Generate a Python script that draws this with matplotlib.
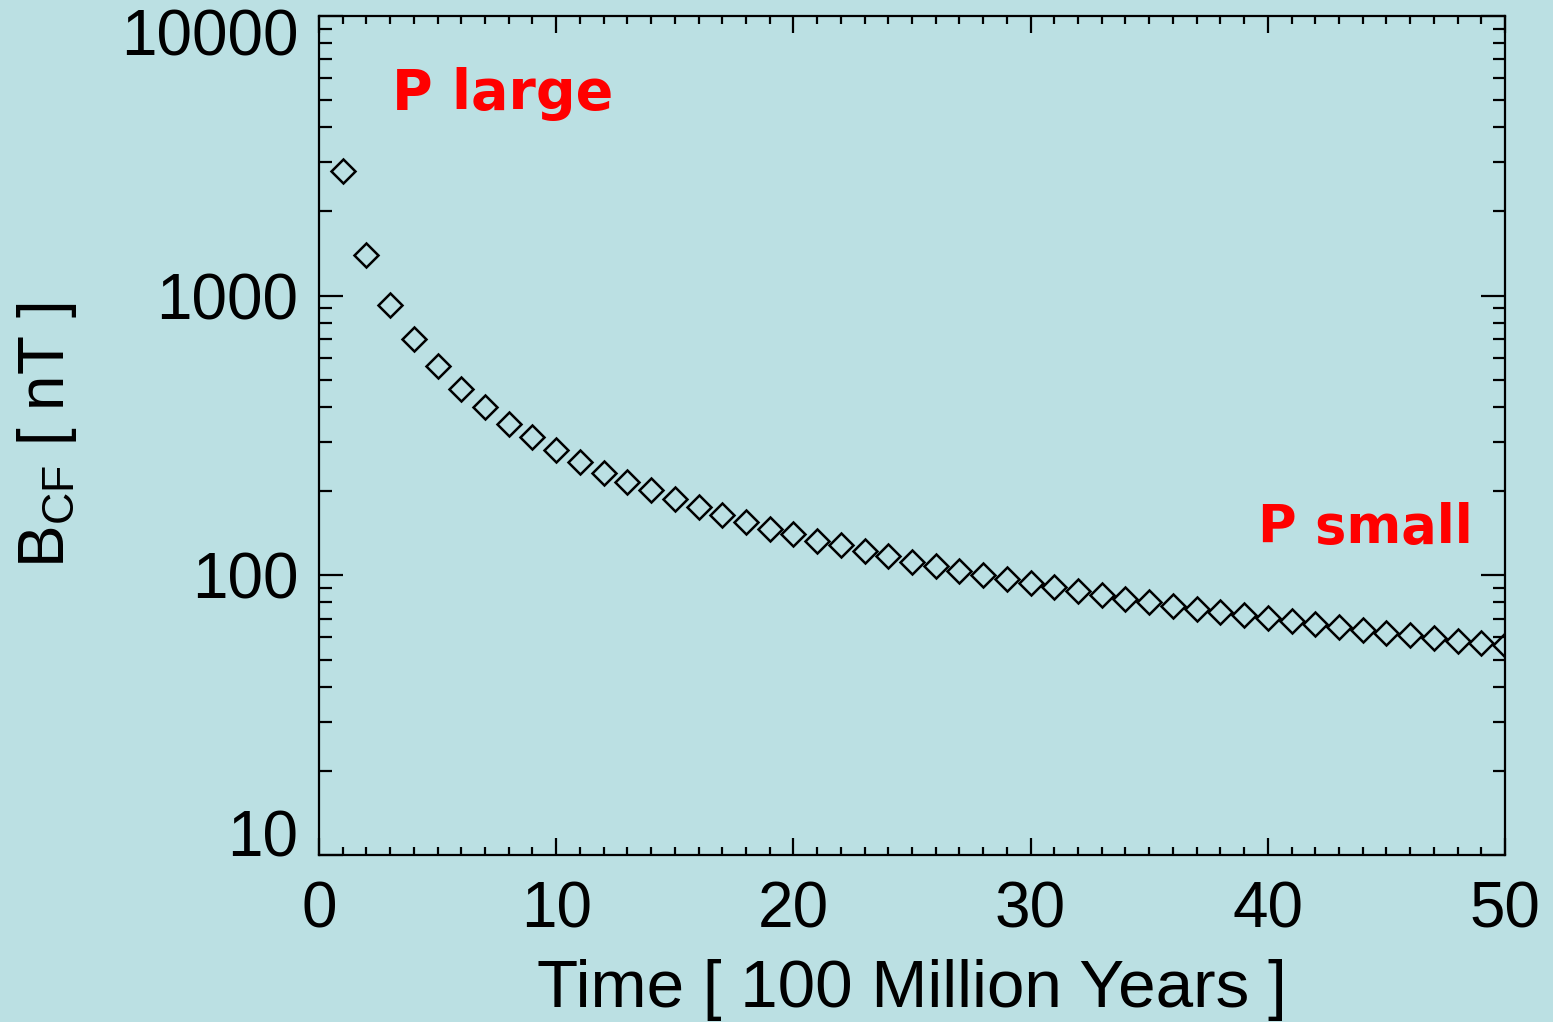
import matplotlib
matplotlib.use("Agg")
import matplotlib.pyplot as plt
import matplotlib.transforms as mtransforms
from matplotlib.ticker import FixedLocator, MultipleLocator, NullFormatter

# values
time = list(range(1, 51))   # [100 Million Years]
b_cf = [2795, 1398, 928, 700, 559, 465, 399, 349, 312, 280,
        254, 233, 215, 202, 187, 175, 165, 155, 147, 140,
        133, 128, 122, 117, 112, 108, 104, 100, 96.8, 93.6,
        90.8, 87.9, 85.1, 82.6, 80.4, 78.0, 75.8, 74.0, 72.0, 70.2,
        68.5, 66.8, 65.4, 63.8, 62.4, 61.1, 59.7, 58.4, 57.3, 56.2]
yticks = [10, 100, 1000, 10000]
xticks = [0, 10, 20, 30, 40, 50]

bg = '#bbe0e3'
plt.rcParams['font.family'] = ['Liberation Sans', 'DejaVu Sans']
plt.rcParams['mathtext.default'] = 'regular'

fig = plt.figure(figsize=(15.53, 10.22), dpi=100, facecolor=bg)
ax = fig.add_axes([319/1553, 1 - 855/1022, (1505-319)/1553, (855-16)/1022])
ax.set_facecolor(bg)

ax.plot(time, b_cf, linestyle='none', marker='D', markersize=12,
        markerfacecolor='none', markeredgecolor='k', markeredgewidth=1.8)

ax.set_yscale('log')
ax.set_ylim(10, 10000)
ax.set_xlim(0, 50)
ax.yaxis.set_major_locator(FixedLocator(yticks))
ax.set_yticklabels([str(v) for v in yticks])
ax.yaxis.set_minor_formatter(NullFormatter())
ax.xaxis.set_major_locator(FixedLocator(xticks))
ax.xaxis.set_minor_locator(MultipleLocator(1))

for s in ax.spines.values():
    s.set_linewidth(1.6)

ax.tick_params(which='both', direction='in', top=True, right=True,
               width=1.6, labelsize=46, colors='k')
ax.tick_params(axis='x', which='major', length=12, pad=18)
ax.tick_params(axis='x', which='minor', length=6)
ax.tick_params(axis='y', which='major', length=17, pad=15)
ax.tick_params(axis='y', which='minor', length=9)

# IDL nudges the end labels inside the axis range
labels = ax.get_yticklabels()
shift_down = mtransforms.ScaledTranslation(0, -16/100, fig.dpi_scale_trans)
shift_up = mtransforms.ScaledTranslation(0, 22/100, fig.dpi_scale_trans)
labels[-1].set_transform(labels[-1].get_transform() + shift_down)
labels[0].set_transform(labels[0].get_transform() + shift_up)

ax.set_xlabel('Time [ 100 Million Years ]', fontsize=48.5, labelpad=14)
ax.set_ylabel(r'B$_{CF}$ [ nT ]', fontsize=46, labelpad=30)

ax.text(0.0616, 0.889, 'P large', transform=ax.transAxes, color='red',
        fontsize=40, fontweight='bold', family='DejaVu Sans',
        ha='left', va='baseline')
ax.text(0.792, 0.372, 'P small', transform=ax.transAxes, color='red',
        fontsize=38, fontweight='bold', family='DejaVu Sans',
        ha='left', va='baseline')

fig.savefig('out.png', dpi=100, facecolor=bg)
